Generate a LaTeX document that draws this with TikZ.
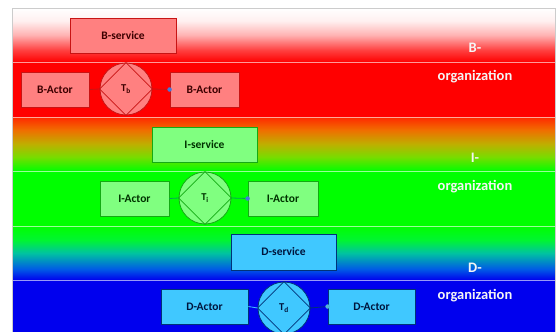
\documentclass[tikz,border=0pt]{standalone}
\usepackage{fontspec}
\setmainfont{Carlito}
\usetikzlibrary{shapes.geometric}
\definecolor{bfill}{RGB}{255,128,128}
\definecolor{bline}{RGB}{200,20,20}
\definecolor{btext}{RGB}{60,0,0}
\definecolor{ifill}{RGB}{128,255,128}
\definecolor{iline}{RGB}{20,170,20}
\definecolor{itext}{RGB}{0,50,0}
\definecolor{dfill}{RGB}{64,200,255}
\definecolor{dline}{RGB}{0,50,120}
\definecolor{dtext}{RGB}{0,20,60}
\definecolor{dotblue}{RGB}{70,120,220}
\definecolor{bandblue}{RGB}{0,0,238}
% band gradients (bottom to top; the path is fitted to 25bp..75bp)
\pgfdeclareverticalshading{bgrad}{100bp}{color(0bp)=(red); color(25bp)=(red);
  color(36bp)=(red!75!white); color(50bp)=(red!30!white); color(63bp)=(red!6!white);
  color(75bp)=(white); color(100bp)=(white)}
\pgfdeclareverticalshading{igrad}{100bp}{color(0bp)=(green); color(25bp)=(green);
  color(38bp)=(rgb,255:red,120;green,220;blue,0); color(50bp)=(rgb,255:red,190;green,175;blue,0);
  color(63bp)=(rgb,255:red,240;green,110;blue,0); color(75bp)=(rgb,255:red,255;green,40;blue,0);
  color(100bp)=(red)}
\pgfdeclareverticalshading{dgrad}{100bp}{color(0bp)=(bandblue); color(25bp)=(bandblue);
  color(35bp)=(rgb,255:red,0;green,90;blue,230); color(50bp)=(rgb,255:red,0;green,195;blue,160);
  color(62bp)=(rgb,255:red,0;green,245;blue,50); color(75bp)=(green); color(100bp)=(green)}
\tikzset{
  box/.style={draw, line width=0.8pt, minimum height=35pt, inner sep=0pt,
    font=\fontsize{11.5}{13}\selectfont\bfseries},
  bbox/.style={box, fill=bfill, draw=bline, text=btext},
  tcircle/.style={circle, draw, line width=0.8pt, minimum size=52pt, inner sep=0pt,
    font=\fontsize{10.5}{12}\selectfont\bfseries},
  orglabel/.style={text=white!92!gray, font=\fontsize{14.5}{16}\selectfont\bfseries},
  sepline/.style={draw=white, draw opacity=0.6, line width=1pt},
  conn/.style={line width=0.8pt},
  enddot/.style={circle, fill=dotblue, inner sep=0pt, minimum size=4.5pt}
}
\begin{document}
\begin{tikzpicture}[x=1pt, y=-1pt]
\useasboundingbox (0,0) rectangle (560,332);
\fill[white] (0,0) rectangle (560,332);
% bands
\begin{scope}
\clip (12,8) rectangle (555,332);
\shade[shading=bgrad] (12,8) rectangle (555,62);
\fill[red] (12,62) rectangle (555,117);
\shade[shading=igrad] (12,117) rectangle (555,171);
\fill[green] (12,171) rectangle (555,226);
\shade[shading=dgrad] (12,226) rectangle (555,280);
\fill[bandblue] (12,280) rectangle (555,340);
\foreach \yy in {62,117,171,226,280} \draw[sepline] (12,\yy) -- (555,\yy);
\end{scope}
\draw[gray!40, line width=1pt] (12,340) -- (12,8) -- (555,8) -- (555,340);

% B-organization
\node[bbox, minimum width=106pt] (bsvc) at (123,35.5) {B-service};
\node[bbox, minimum width=68pt] (bact1) at (55,89.5) {B-Actor};
\node[tcircle, fill=bfill, draw=bline, text=btext] (tb) at (126,89) {T\textsubscript{b}};
\draw[bline, line width=0.8pt] (tb.north) -- (tb.east) -- (tb.south) -- (tb.west) -- cycle;
\node[bbox, minimum width=69pt] (bact2) at (204.5,89.5) {B-Actor};
\draw[conn, bline] (bact1.east) -- (tb.west);
\draw[conn, bline] (tb.east) -- (bact2.west);
\node[enddot] (bdot) at (bact2.west) {};
\node[orglabel] (blab1) at (475,48) {B-};
\node[orglabel] (blab2) at (475,77) {organization};

% I-organization
\node[box, fill=ifill, draw=iline, text=itext, minimum width=105pt] (isvc) at (204.5,144.5) {I-service};
\node[box, fill=ifill, draw=iline, text=itext, minimum width=69pt] (iact1) at (134.5,198.5) {I-Actor};
\node[tcircle, fill=ifill, draw=iline, text=itext] (ti) at (205,198) {T\textsubscript{i}};
\draw[iline, line width=0.8pt] (ti.north) -- (ti.east) -- (ti.south) -- (ti.west) -- cycle;
\node[box, fill=ifill, draw=iline, text=itext, minimum width=70pt] (iact2) at (283,198.5) {I-Actor};
\draw[conn, teal!70!green] (iact1.east) -- (ti.west);
\draw[conn, teal!70!green] (ti.east) -- (iact2.west);
\node[enddot] (idot) at (iact2.west) {};
\node[orglabel] (ilab1) at (475,158) {I-};
\node[orglabel] (ilab2) at (475,187) {organization};

% D-organization
\node[box, fill=dfill, draw=dline, text=dtext, minimum width=105pt, minimum height=36pt] (dsvc) at (283.5,252) {D-service};
\node[box, fill=dfill, draw=dline, text=dtext, minimum width=87pt] (dact1) at (204.5,306.5) {D-Actor};
\node[tcircle, fill=dfill, draw=dline, text=dtext] (td) at (284,308) {T\textsubscript{d}};
\draw[dline, line width=0.8pt] (td.north) -- (td.east) -- (td.south) -- (td.west) -- cycle;
\node[box, fill=dfill, draw=dline, text=dtext, minimum width=87pt] (dact2) at (371.5,306.5) {D-Actor};
\draw[conn, dfill] (dact1.east) -- (td.west);
\draw[conn, dline] (td.east) -- (dact2.west);
\node[enddot, fill=dfill!70!gray] (ddot) at (dact2.west) {};
\node[orglabel] (dlab1) at (475,268) {D-};
\node[orglabel] (dlab2) at (475,296) {organization};
\end{tikzpicture}
\end{document}
